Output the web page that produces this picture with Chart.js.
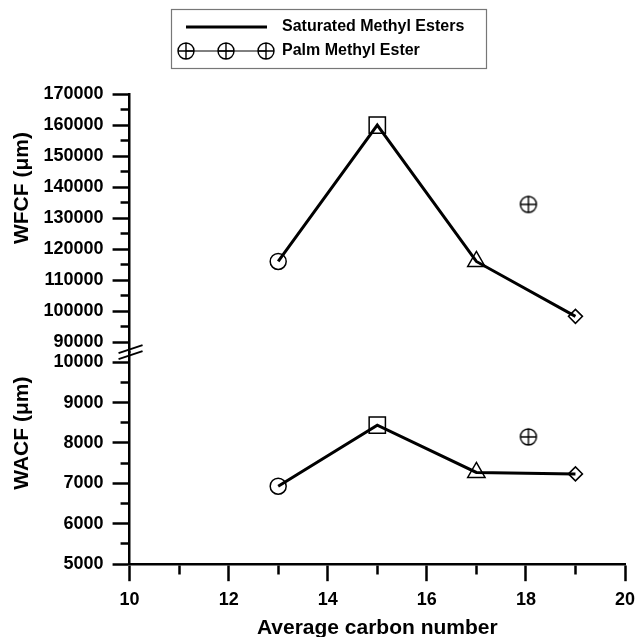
<!DOCTYPE html>
<html>
<head>
<meta charset="utf-8">
<script src="https://cdn.jsdelivr.net/npm/chart.js@4.4.1/dist/chart.umd.min.js"></script>
<style>
  html, body { margin: 0; padding: 0; background: #fff; }
</style>
</head>
<body>
<canvas id="chart-area" width="638" height="637"></canvas>
<script>
// data
var legendNames = ['Saturated Methyl Esters', 'Palm Methyl Ester'];
var yTitles = ['WFCF (μm)', 'WACF (μm)'];
var carbonNumbers = [13, 15, 17, 19];
var wfcfSaturated = [116000, 160000, 116000, 98300];
var wacfSaturated = [6930, 8440, 7270, 7235];
var palmCarbon = [18.05];
var wfcfPalm = [134400];
var wacfPalm = [8150];
var xTicks = [10, 20];
var wfcfRange = [90000, 170000];
var wacfRange = [5000, 10000];

var markerStyles = ['circle', 'rect', 'triangle', 'rectRot'];
var markerSizes = [8, 11.5, 10, 7];

var FONT = '"Liberation Sans", Arial, Helvetica, sans-serif';

function crossCircle(r) {
	var s = Math.ceil(r * 2 + 4);
	var c = document.createElement('canvas');
	c.width = s; c.height = s;
	var g = c.getContext('2d');
	var m = s / 2;
	g.strokeStyle = '#000';
	g.lineWidth = 1.4;
	g.beginPath();
	g.arc(m, m, r, 0, Math.PI * 2);
	g.moveTo(m - r, m); g.lineTo(m + r, m);
	g.moveTo(m, m - r); g.lineTo(m, m + r);
	g.stroke();
	return c;
}
var palmMarker = crossCircle(8);

function pts(xs, ys) {
	return xs.map(function (x, i) { return { x: x, y: ys[i] }; });
}

var tickFont = { family: FONT, size: 18, weight: 'bold' };
var titleFont = { family: FONT, size: 21, weight: 'bold' };

function yAxis(lo, hi, step, major, weight, min, max) {
	return {
		type: 'linear',
		position: 'left',
		stack: 'left',
		stackWeight: weight,
		min: min,
		max: max,
		afterBuildTicks: function (s) {
			var t = [];
			for (var v = lo; v <= hi; v += step) t.push({ value: v });
			s.ticks = t;
		},
		ticks: {
			stepSize: step,
			autoSkip: false,
			color: '#000',
			font: tickFont,
			padding: 9,
			callback: function (v) { return v % major === 0 ? String(v) : ''; }
		},
		grid: {
			drawOnChartArea: false,
			tickLength: 17,
			tickWidth: 2.5,
			tickColor: '#000',
			// minor ticks: only the half next to the axis
			tickBorderDash: function (ctx) {
				return ctx.tick && ctx.tick.value % major !== 0 ? [0, 8, 9, 100] : [];
			}
		},
		border: { color: '#000', width: 2.5 },
		title: { display: false }
	};
}

var axisBreak = {
	id: 'axisBreak',
	afterDraw: function (chart) {
		var ctx = chart.ctx;
		var a = chart.scales.yTop.getPixelForValue(wfcfRange[0]);
		var b = chart.scales.yBot.getPixelForValue(wacfRange[1]);
		var mid = (a + b) / 2;
		var x = chart.chartArea.left;
		ctx.save();
		ctx.strokeStyle = '#000';
		ctx.lineWidth = 2;
		[-3, 3].forEach(function (off) {
			ctx.beginPath();
			ctx.moveTo(x - 11, mid + off + 4);
			ctx.lineTo(x + 13, mid + off - 4);
			ctx.stroke();
		});
		ctx.restore();
	}
};

// y titles sit above the middle of each panel, as in the original
var yTitlePlugin = {
	id: 'yTitles',
	afterDraw: function (chart) {
		var ctx = chart.ctx;
		var top = chart.scales.yTop, bot = chart.scales.yBot;
		var yA = (top.getPixelForValue(wfcfRange[0]) + top.getPixelForValue(wfcfRange[1])) / 2 - 30;
		var yB = (bot.getPixelForValue(wacfRange[0]) + bot.getPixelForValue(wacfRange[1])) / 2 - 30;
		ctx.save();
		ctx.fillStyle = '#000';
		ctx.font = 'bold 21px ' + FONT;
		ctx.textAlign = 'center';
		ctx.textBaseline = 'middle';
		[[yTitles[0], yA], [yTitles[1], yB]].forEach(function (p) {
			ctx.save();
			ctx.translate(22, p[1]);
			ctx.rotate(-Math.PI / 2);
			ctx.fillText(p[0], 0, 0);
			ctx.restore();
		});
		ctx.restore();
	}
};

var boxLegend = {
	id: 'boxLegend',
	afterDraw: function (chart) {
		var ctx = chart.ctx;
		ctx.save();
		ctx.strokeStyle = '#777';
		ctx.lineWidth = 1.2;
		ctx.strokeRect(171.5, 9.5, 315, 59);

		ctx.strokeStyle = '#000';
		ctx.lineWidth = 3;
		ctx.beginPath(); ctx.moveTo(186, 27); ctx.lineTo(267, 27); ctx.stroke();

		ctx.lineWidth = 1;
		ctx.beginPath(); ctx.moveTo(186, 51); ctx.lineTo(266, 51); ctx.stroke();
		[186, 226, 266].forEach(function (x) {
			ctx.drawImage(palmMarker, x - palmMarker.width / 2, 51 - palmMarker.height / 2);
		});

		ctx.fillStyle = '#000';
		ctx.font = 'bold 16px ' + FONT;
		ctx.textBaseline = 'middle';
		ctx.fillText(legendNames[0], 282, 27);
		ctx.fillText(legendNames[1], 282, 51);
		ctx.restore();
	}
};

var lineStyle = {
	borderColor: '#000',
	borderWidth: 3,
	pointStyle: markerStyles,
	pointRadius: markerSizes,
	pointBorderColor: '#000',
	pointBorderWidth: 1.5,
	pointBackgroundColor: 'rgba(0,0,0,0)',
	showLine: true,
	tension: 0
};

var config = {
	type: 'scatter',
	data: {
		datasets: [
			Object.assign({ label: legendNames[0], data: pts(carbonNumbers, wfcfSaturated), yAxisID: 'yTop' }, lineStyle),
			Object.assign({ label: legendNames[0], data: pts(carbonNumbers, wacfSaturated), yAxisID: 'yBot' }, lineStyle),
			{ label: legendNames[1], data: pts(palmCarbon, wfcfPalm), yAxisID: 'yTop', pointStyle: palmMarker, showLine: false },
			{ label: legendNames[1], data: pts(palmCarbon, wacfPalm), yAxisID: 'yBot', pointStyle: palmMarker, showLine: false }
		]
	},
	options: {
		responsive: false,
		animation: false,
		events: [],
		layout: { padding: { top: 94, left: 34.5, right: 8, bottom: 0 } },
		plugins: {
			legend: { display: false },
			tooltip: { enabled: false }
		},
		scales: {
			x: {
				type: 'linear',
				min: xTicks[0],
				max: xTicks[1],
				afterFit: function (s) { s.paddingRight = 13; },
				ticks: {
					stepSize: 1,
					autoSkip: false,
					maxRotation: 0,
					color: '#000',
					font: tickFont,
					padding: 8,
					callback: function (v) { return v % 2 === 0 ? String(v) : ''; }
				},
				grid: {
					drawOnChartArea: false,
					tickLength: 17,
					tickWidth: 2.5,
					tickColor: '#000',
					tickBorderDash: function (ctx) {
						return ctx.tick && ctx.tick.value % 2 !== 0 ? [9, 40] : [];
					}
				},
				border: { color: '#000', width: 2.5 },
				title: { display: true, text: 'Average carbon number', color: '#000', font: titleFont, padding: { top: -3, bottom: -4 } }
			},
			yBot: yAxis(wacfRange[0], wacfRange[1], 500, 1000, 212, 5000, 10248),
			yTop: yAxis(wfcfRange[0], wfcfRange[1], 5000, 10000, 258, 86774, 170000)
		}
	},
	plugins: [axisBreak, yTitlePlugin, boxLegend]
};

window.onload = function () {
	var ctx = document.getElementById('chart-area').getContext('2d');
	window.myChart = new Chart(ctx, config);
};
</script>
</body>
</html>
